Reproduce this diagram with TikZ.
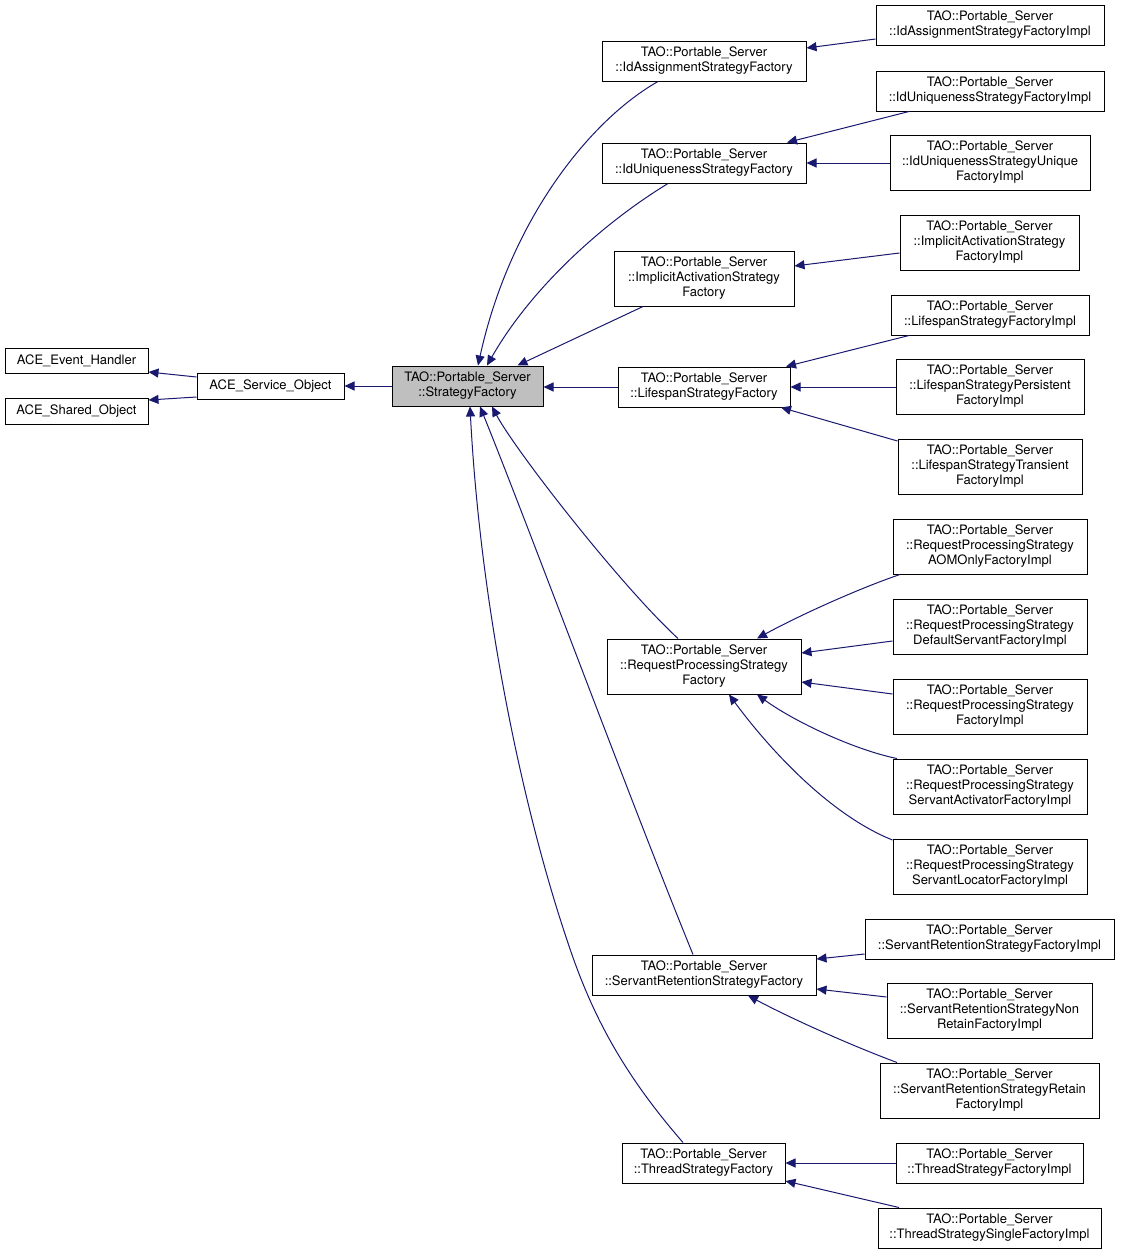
\documentclass[tikz,border=0pt]{standalone}
\usepackage{fontspec}
\setmainfont{TeX Gyre Heros}
\usetikzlibrary{arrows.meta}
\definecolor{navy}{HTML}{191970}
\definecolor{curgray}{HTML}{BFBFBF}
\tikzset{
  cls/.style={draw=black, line width=1pt, fill=white, inner sep=0pt, align=center,
    font=\fontsize{13}{15}\selectfont, text=black},
  cur/.style={cls, fill=curgray},
  edge/.style={draw=navy, line width=1pt, {Triangle[length=10pt,width=9pt,fill=navy]}-},
}
\begin{document}
\begin{tikzpicture}[x=1pt,y=-1pt]
\useasboundingbox[fill=white] (0,0) rectangle (1120,1253);

% left column
\node[cls,minimum width=143pt,minimum height=25pt] (eh) at (76.5,360.5) {ACE\_Event\_Handler};
\node[cls,minimum width=143pt,minimum height=26pt] (so) at (76.5,411) {ACE\_Shared\_Object};
\node[cls,minimum width=147pt,minimum height=26pt] (svc) at (270.5,386) {ACE\_Service\_Object};
\node[cur,minimum width=151pt,minimum height=40pt] (sf) at (467.5,386) {TAO::Portable\_Server\\::StrategyFactory};

% middle column
\node[cls,minimum width=204pt,minimum height=40pt] (ia) at (704,61) {TAO::Portable\_Server\\::IdAssignmentStrategyFactory};
\node[cls,minimum width=204pt,minimum height=40pt] (iu) at (704,163) {TAO::Portable\_Server\\::IdUniquenessStrategyFactory};
\node[cls,minimum width=180pt,minimum height=55pt] (iact) at (704,278.5) {TAO::Portable\_Server\\::ImplicitActivationStrategy\\Factory};
\node[cls,minimum width=172pt,minimum height=40pt] (ls) at (704,387) {TAO::Portable\_Server\\::LifespanStrategyFactory};
\node[cls,minimum width=194pt,minimum height=55pt] (rps) at (704,666.5) {TAO::Portable\_Server\\::RequestProcessingStrategy\\Factory};
\node[cls,minimum width=224pt,minimum height=40pt] (srs) at (704,975) {TAO::Portable\_Server\\::ServantRetentionStrategyFactory};
\node[cls,minimum width=163pt,minimum height=40pt] (ts) at (703.5,1163) {TAO::Portable\_Server\\::ThreadStrategyFactory};

% right column
\node[cls,minimum width=228pt,minimum height=40pt] (iai) at (990,25) {TAO::Portable\_Server\\::IdAssignmentStrategyFactoryImpl};
\node[cls,minimum width=228pt,minimum height=40pt] (iui) at (990,91) {TAO::Portable\_Server\\::IdUniquenessStrategyFactoryImpl};
\node[cls,minimum width=200pt,minimum height=55pt] (iuu) at (990,162.5) {TAO::Portable\_Server\\::IdUniquenessStrategyUnique\\FactoryImpl};
\node[cls,minimum width=179pt,minimum height=55pt] (iaci) at (989.5,242.5) {TAO::Portable\_Server\\::ImplicitActivationStrategy\\FactoryImpl};
\node[cls,minimum width=198pt,minimum height=40pt] (lsi) at (990,315) {TAO::Portable\_Server\\::LifespanStrategyFactoryImpl};
\node[cls,minimum width=188pt,minimum height=55pt] (lsp) at (990,386.5) {TAO::Portable\_Server\\::LifespanStrategyPersistent\\FactoryImpl};
\node[cls,minimum width=184pt,minimum height=55pt] (lst) at (990,466.5) {TAO::Portable\_Server\\::LifespanStrategyTransient\\FactoryImpl};
\node[cls,minimum width=194pt,minimum height=55pt] (rpsA) at (990,546.5) {TAO::Portable\_Server\\::RequestProcessingStrategy\\AOMOnlyFactoryImpl};
\node[cls,minimum width=194pt,minimum height=55pt] (rpsD) at (990,626.5) {TAO::Portable\_Server\\::RequestProcessingStrategy\\DefaultServantFactoryImpl};
\node[cls,minimum width=194pt,minimum height=55pt] (rpsF) at (990,706.5) {TAO::Portable\_Server\\::RequestProcessingStrategy\\FactoryImpl};
\node[cls,minimum width=194pt,minimum height=55pt] (rpsSA) at (990,786.5) {TAO::Portable\_Server\\::RequestProcessingStrategy\\ServantActivatorFactoryImpl};
\node[cls,minimum width=194pt,minimum height=55pt] (rpsSL) at (990,866.5) {TAO::Portable\_Server\\::RequestProcessingStrategy\\ServantLocatorFactoryImpl};
\node[cls,minimum width=249pt,minimum height=40pt] (srsF) at (989.5,939) {TAO::Portable\_Server\\::ServantRetentionStrategyFactoryImpl};
\node[cls,minimum width=205pt,minimum height=55pt] (srsN) at (989.5,1010.5) {TAO::Portable\_Server\\::ServantRetentionStrategyNon\\RetainFactoryImpl};
\node[cls,minimum width=219pt,minimum height=55pt] (srsR) at (989.5,1090.5) {TAO::Portable\_Server\\::ServantRetentionStrategyRetain\\FactoryImpl};
\node[cls,minimum width=187pt,minimum height=40pt] (tsF) at (989.5,1163) {TAO::Portable\_Server\\::ThreadStrategyFactoryImpl};
\node[cls,minimum width=223pt,minimum height=40pt] (tsS) at (989.5,1228) {TAO::Portable\_Server\\::ThreadStrategySingleFactoryImpl};

% left edges
\draw[edge] ([shift={(0,11.5)}]eh.east) -- ([shift={(0,-9)}]svc.west);
\draw[edge] ([shift={(0,-11)}]so.east) -- ([shift={(0,11)}]svc.west);
\draw[edge] (svc.east) -- (sf.west);

% edges into StrategyFactory
\draw[edge] ([shift={(10.5,0)}]sf.north) .. controls (510,220) and (590,120) .. ([shift={(-46,0)}]ia.south);
\draw[edge] ([shift={(19.5,0)}]sf.north) .. controls (530,290) and (600,225) .. ([shift={(-36,0)}]iu.south);
\draw[edge] ([shift={(50,0)}]sf.north) -- ([shift={(-61,0)}]iact.south);
\draw[edge] (ls.west -| sf.east) -- (ls.west);
\draw[edge] ([shift={(24.5,0)}]sf.south) .. controls (515,450) and (620,585) .. ([shift={(-26,0)}]rps.north);
\draw[edge] ([shift={(12.5,0)}]sf.south) .. controls (530,530) and (630,800) .. ([shift={(-11,0)}]srs.north);
\draw[edge] ([shift={(2.5,0)}]sf.south) .. controls (480,600) and (520,800) .. (567,940) .. controls (590,1010) and (620,1070) .. ([shift={(-20.5,0)}]ts.north);

% right-side edges
\draw[edge] ([shift={(0,-13)}]ia.east) -- ([shift={(0,14)}]iai.west);
\draw[edge] ([shift={(83,0)}]iu.north) -- ([shift={(-81,0)}]iui.south);
\draw[edge] (iu.east) -- (iu.east -| iuu.west);
\draw[edge] ([shift={(0,-12.5)}]iact.east) -- ([shift={(0,10.5)}]iaci.west);
\draw[edge] ([shift={(82,0)}]ls.north) -- ([shift={(-81,0)}]lsi.south);
\draw[edge] (ls.east) -- (ls.east -| lsp.west);
\draw[edge] ([shift={(77,0)}]ls.south) -- ([shift={(0,-25.5)}]lst.west);
\draw[edge] ([shift={(53,0)}]rps.north) .. controls (800,615) and (860,588) .. ([shift={(-90,0)}]rpsA.south);
\draw[edge] ([shift={(0,-13.5)}]rps.east) -- ([shift={(0,14.5)}]rpsD.west);
\draw[edge] ([shift={(0,15.5)}]rps.east) -- ([shift={(0,-12.5)}]rpsF.west);
\draw[edge] ([shift={(53,0)}]rps.south) .. controls (795,722) and (855,750) .. ([shift={(-93,0)}]rpsSA.north);
\draw[edge] ([shift={(25,0)}]rps.south) .. controls (770,750) and (830,815) .. ([shift={(0,-26.5)}]rpsSL.west);
\draw[edge] ([shift={(0,-16)}]srs.east) -- ([shift={(0,15)}]srsF.west);
\draw[edge] ([shift={(0,14)}]srs.east) -- ([shift={(0,-13.5)}]srsN.west);
\draw[edge] ([shift={(44,0)}]srs.south) .. controls (790,1018) and (850,1045) .. ([shift={(-92.5,0)}]srsR.north);
\draw[edge] (ts.east) -- (ts.east -| tsF.west);
\draw[edge] ([shift={(0,18)}]ts.east) -- ([shift={(-90.5,0)}]tsS.north);
\end{tikzpicture}
\end{document}
